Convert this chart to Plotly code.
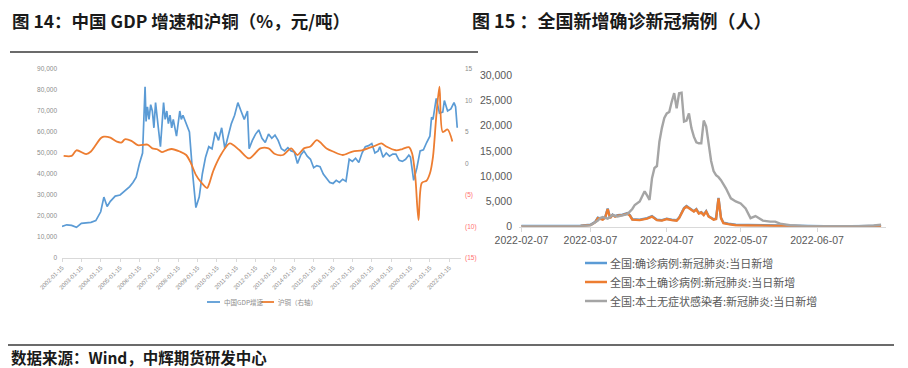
import plotly.graph_objects as go

# ---------------- Left chart data (图14) ----------------
copper_dates = [
    "2002-01-15", "2002-04-15", "2002-07-15", "2002-10-15", "2003-01-15", "2003-04-15", "2003-07-15",
    "2003-10-15", "2004-01-15", "2004-03-15", "2004-05-15", "2004-07-15", "2004-10-15", "2005-01-15",
    "2005-04-15", "2005-07-15", "2005-09-15", "2005-11-15", "2006-01-15", "2006-03-15", "2006-05-01",
    "2006-05-20", "2006-06-15", "2006-07-15", "2006-08-15", "2006-09-15", "2006-10-15", "2006-11-15",
    "2007-01-15", "2007-02-15", "2007-04-15", "2007-05-15", "2007-06-15", "2007-07-15", "2007-08-15",
    "2007-09-15", "2007-10-15", "2007-12-15", "2008-02-15", "2008-03-15", "2008-04-15", "2008-06-15",
    "2008-08-15", "2008-10-15", "2008-12-15", "2009-02-15", "2009-04-15", "2009-06-15", "2009-08-15",
    "2009-10-15", "2009-12-15", "2010-02-15", "2010-04-15", "2010-06-15", "2010-08-15", "2010-10-15",
    "2010-12-15", "2011-02-15", "2011-04-15", "2011-06-15", "2011-08-15", "2011-09-15", "2011-11-15",
    "2012-01-15", "2012-03-15", "2012-05-15", "2012-07-15", "2012-09-15", "2012-11-15", "2013-01-15",
    "2013-03-15", "2013-05-15", "2013-07-15", "2013-09-15", "2013-11-15", "2014-01-15", "2014-03-15",
    "2014-05-15", "2014-07-15", "2014-09-15", "2014-11-15", "2015-01-15", "2015-03-15", "2015-05-15",
    "2015-07-15", "2015-09-15", "2015-11-15", "2016-01-15", "2016-03-15", "2016-05-15", "2016-07-15",
    "2016-09-15", "2016-11-15", "2017-01-15", "2017-03-15", "2017-05-15", "2017-07-15", "2017-09-15",
    "2017-11-15", "2018-01-15", "2018-03-15", "2018-05-15", "2018-06-15", "2018-08-15", "2018-10-15",
    "2018-12-15", "2019-02-15", "2019-04-15", "2019-06-15", "2019-08-15", "2019-10-15", "2019-12-15",
    "2020-01-15", "2020-03-15", "2020-05-15", "2020-07-15", "2020-09-15", "2020-11-15", "2021-01-15",
    "2021-02-15", "2021-03-15", "2021-05-15", "2021-07-15", "2021-09-15", "2021-10-15", "2021-12-15",
    "2022-02-15", "2022-04-15", "2022-05-15", "2022-06-15",
]
copper_values = [
    15000, 15800, 15500, 14600, 16500, 16800, 17000,
    17800, 22000, 29000, 24500, 27000, 29500, 30000,
    32000, 34000, 36000, 38500, 45000, 50000, 81500,
    65000, 72000, 66000, 73000, 70000, 62000, 74000,
    60000, 53000, 74000, 66000, 70000, 64000, 68000,
    62000, 66000, 58000, 70000, 66000, 68000, 64000,
    60000, 40000, 24000, 29000, 40000, 48000, 53000,
    52000, 60000, 56000, 62000, 52000, 58000, 64000,
    68000, 74000, 70000, 66000, 70000, 52000, 56000,
    59000, 61000, 57000, 55000, 59000, 57000, 58500,
    56000, 52000, 51000, 52500, 51000, 50500, 45000,
    49000, 51000, 48500, 47000, 43000, 44000, 43500,
    40000, 38000, 36000, 35500, 37000, 36000, 37500,
    36500, 47000, 46000, 47500, 45500, 50000, 53000,
    53500, 54500, 50000, 51000, 53000, 48000, 50000,
    48500, 49500, 49500, 46500, 46000, 47000, 49000,
    48000, 37000, 43000, 51000, 51500, 55000, 58000,
    67000, 66000, 76000, 69000, 69500, 75000, 70000,
    71000, 74000, 72000, 62000,
]

gdp_dates = [
    "2002-02-15", "2002-07-15", "2002-10-15", "2003-04-15", "2003-07-15", "2004-01-15", "2004-03-15",
    "2004-07-15", "2004-11-15", "2005-02-15", "2005-04-15", "2005-08-15", "2005-12-15", "2006-06-15",
    "2006-09-15", "2006-12-15", "2007-03-15", "2007-06-15", "2007-09-15", "2008-02-15", "2008-06-15",
    "2008-09-15", "2008-12-15", "2009-03-15", "2009-07-15", "2009-08-15", "2009-11-15", "2010-04-15",
    "2010-09-15", "2011-03-15", "2011-09-15", "2012-04-15", "2012-09-15", "2013-01-15", "2013-06-15",
    "2013-11-15", "2014-03-15", "2014-07-15", "2014-11-15", "2015-03-15", "2015-09-15", "2016-01-15",
    "2016-07-15", "2017-01-15", "2017-07-15", "2018-02-15", "2018-07-15", "2018-10-15", "2019-04-15",
    "2019-08-15", "2019-12-15", "2020-02-15", "2020-04-15", "2020-06-15", "2020-08-15", "2020-11-15",
    "2021-01-15", "2021-03-15", "2021-05-15", "2021-07-15", "2021-09-15", "2021-12-15", "2022-03-15",
]
gdp_values = [
    1.2, 1.2, 2.1, 1.5, 1.9, 4.0, 4.25,
    4.1, 3.46, 3.35, 3.84, 3.6, 2.9, 3.0,
    2.4, 2.26, 1.8, 2.1, 2.3, 1.9, 1.35,
    0.0, -1.8, -2.9, -3.9, -3.4, -1.0, 1.6,
    3.2, 2.14, 0.8, 2.4, 2.4, 1.5, 1.35,
    2.4, 1.35, 2.4, 2.7, 3.7, 2.4, 1.9,
    1.35, 1.9, 2.1, 2.7, 3.2, 2.7, 2.1,
    2.3, 2.6, 1.6, -2.1, -9.0, -3.1, -2.7,
    -1.6, 1.1, 7.4, 12.2, 5.0, 5.4, 3.5,
]
left_tick_years = list(range(2002, 2023))
left_tick_labels = [f"{y}-01-15" for y in left_tick_years]
left_y_ticks = [0, 10000, 20000, 30000, 40000, 50000, 60000, 70000, 80000, 90000]
right_y_ticks = [-15, -10, -5, 0, 5, 10, 15]
right_y_labels = ["(15)", "(10)", "(5)", "0", "5", "10", "15"]
left_series_names = ["中国GDP增速", "沪铜（右轴）"]

# ---------------- Right chart data (图15) ----------------
asym_dates = [
    "2022-02-07", "2022-02-14", "2022-02-21", "2022-02-28", "2022-03-03", "2022-03-07", "2022-03-10",
    "2022-03-11", "2022-03-12", "2022-03-14", "2022-03-16", "2022-03-18", "2022-03-20", "2022-03-22",
    "2022-03-24", "2022-03-25", "2022-03-27", "2022-03-28", "2022-03-29", "2022-03-30", "2022-03-31",
    "2022-04-01", "2022-04-02", "2022-04-03", "2022-04-04", "2022-04-05", "2022-04-06", "2022-04-07",
    "2022-04-08", "2022-04-09", "2022-04-10", "2022-04-11", "2022-04-12", "2022-04-13", "2022-04-14",
    "2022-04-15", "2022-04-16", "2022-04-17", "2022-04-18", "2022-04-19", "2022-04-20", "2022-04-21",
    "2022-04-22", "2022-04-23", "2022-04-24", "2022-04-25", "2022-04-26", "2022-04-27", "2022-04-28",
    "2022-04-29", "2022-05-01", "2022-05-03", "2022-05-05", "2022-05-07", "2022-05-09", "2022-05-11",
    "2022-05-13", "2022-05-16", "2022-05-19", "2022-05-21", "2022-05-23", "2022-05-27", "2022-06-03",
    "2022-06-10", "2022-06-17", "2022-06-24", "2022-06-30", "2022-07-03",
]
asym_values = [
    80, 60, 70, 100, 120, 250, 1200,
    1700, 1900, 1600, 2300, 2000, 2300, 2500,
    3500, 4300, 5000, 6000, 7000, 6200, 5300,
    9600, 11600, 12000, 16800, 19500, 21500, 22400,
    22700, 24700, 26400, 23400, 26400, 26500, 20800,
    21000, 22400, 19500, 17800, 16700, 16500, 16500,
    21000, 19800, 16200, 13000, 11000, 10200, 9800,
    9200, 7600, 5600, 5000, 4600, 3600, 1700,
    2100, 1200, 1000, 1000, 600, 300, 120,
    80, 100, 120, 250, 400,
]
local_dates = [
    "2022-02-07", "2022-02-14", "2022-02-21", "2022-02-28", "2022-03-03", "2022-03-07", "2022-03-09",
    "2022-03-10", "2022-03-12", "2022-03-13", "2022-03-14", "2022-03-15", "2022-03-16", "2022-03-17",
    "2022-03-18", "2022-03-20", "2022-03-22", "2022-03-23", "2022-03-24", "2022-03-27", "2022-03-30",
    "2022-04-01", "2022-04-03", "2022-04-05", "2022-04-07", "2022-04-09", "2022-04-11", "2022-04-12",
    "2022-04-13", "2022-04-14", "2022-04-15", "2022-04-16", "2022-04-17", "2022-04-18", "2022-04-19",
    "2022-04-20", "2022-04-21", "2022-04-22", "2022-04-23", "2022-04-24", "2022-04-25", "2022-04-26",
    "2022-04-27", "2022-04-28", "2022-04-29", "2022-04-30", "2022-05-02", "2022-05-05", "2022-05-10",
    "2022-05-15", "2022-05-20", "2022-05-25", "2022-06-01", "2022-06-10", "2022-06-20", "2022-06-30",
    "2022-07-03",
]
local_values = [
    40, 60, 80, 100, 150, 300, 900,
    1700, 1400, 1800, 3500, 1700, 2300, 2000,
    2200, 2300, 2600, 2200, 1400, 1300, 1600,
    2000, 1300, 1200, 1500, 1300, 1200, 1700,
    2800, 3600, 4000, 3700, 3400, 3000, 3400,
    2600, 2800, 2300, 3000, 2000, 1700, 1400,
    1500, 5600, 1700, 700, 500, 300, 250,
    200, 150, 100, 60, 50, 40, 60,
    80,
]
total_values = [
    150, 130, 160, 180, 220, 380, 980,
    1780, 1480, 1880, 3580, 1780, 2380, 2080,
    2280, 2380, 2680, 2280, 1480, 1380, 1680,
    2080, 1380, 1280, 1580, 1380, 1280, 1780,
    2880, 3680, 4080, 3780, 3480, 3080, 3480,
    2680, 2880, 2380, 3080, 2080, 1780, 1480,
    1580, 5680, 1780, 780, 580, 380, 330,
    280, 230, 180, 130, 110, 100, 120,
    140,
]
right_tick_dates = ["2022-02-07", "2022-03-07", "2022-04-07", "2022-05-07", "2022-06-07"]
right_series_names = ["全国:确诊病例:新冠肺炎:当日新增", "全国:本土确诊病例:新冠肺炎:当日新增",
                      "全国:本土无症状感染者:新冠肺炎:当日新增"]

BLUE = "#5B9BD5"
ORANGE = "#ED7D31"
GRAY = "#A5A5A5"
CJK = "Noto Sans CJK SC"

# the page body has an 8px margin: draw a 900x360 figure and map window pixels onto it
OFF = 8
W, H = 908 - OFF, 368 - OFF
def px_x(v):
    return (v - OFF) / W
def px_y(v):
    return 1 - (v - OFF) / H

fig = go.Figure()

# left chart traces
fig.add_trace(go.Scatter(x=copper_dates, y=copper_values, mode="lines", name=left_series_names[0],
                         line=dict(color=BLUE, width=1.7), xaxis="x", yaxis="y"))
fig.add_trace(go.Scatter(x=gdp_dates, y=gdp_values, mode="lines", name=left_series_names[1],
                         line=dict(color=ORANGE, width=1.8, shape="spline", smoothing=0.8),
                         xaxis="x", yaxis="y2"))

# right chart traces
fig.add_trace(go.Scatter(x=local_dates, y=total_values, mode="lines", name=right_series_names[0],
                         line=dict(color=BLUE, width=2.4), xaxis="x3", yaxis="y3"))
fig.add_trace(go.Scatter(x=local_dates, y=local_values, mode="lines", name=right_series_names[1],
                         line=dict(color=ORANGE, width=2.4), xaxis="x3", yaxis="y3"))
fig.add_trace(go.Scatter(x=asym_dates, y=asym_values, mode="lines", name=right_series_names[2],
                         line=dict(color=GRAY, width=2.4), xaxis="x3", yaxis="y3"))

right_ticktext = []
for v, lab in zip(right_y_ticks, right_y_labels):
    if v < 0:
        right_ticktext.append(f"<span style='color:#FF7070'>{lab}</span>")
    else:
        right_ticktext.append(lab)

small_font = dict(family="Liberation Sans", size=6.5, color="#8C8C8C")

fig.update_layout(
    width=W, height=H,
    margin=dict(l=0, r=0, t=0, b=0, pad=0, autoexpand=False),
    paper_bgcolor="white", plot_bgcolor="white",
    showlegend=False,
    xaxis=dict(type="date", domain=[px_x(62), px_x(461)], range=["2002-01-15", "2022-08-25"],
               tickvals=[f"{y}-01-15" for y in left_tick_years], ticktext=left_tick_labels,
               tickangle=-45, tickfont=dict(family="Liberation Sans", size=6, color="#8C8C8C"),
               showline=True, linecolor="#D9D9D9", linewidth=1, ticks="outside", ticklen=3,
               tickcolor="#D9D9D9", showgrid=False, zeroline=False, anchor="y", automargin=False),
    yaxis=dict(domain=[px_y(258), px_y(69)], range=[0, 90000], tickvals=left_y_ticks,
               tickformat=",", tickfont=small_font, showgrid=False, zeroline=False,
               showline=False, ticks="", anchor="x", automargin=False, ticklabelstandoff=4),
    yaxis2=dict(overlaying="y", side="right", range=[-15, 15], tickvals=right_y_ticks,
                ticktext=right_ticktext, tickfont=small_font, showgrid=False, zeroline=False,
                showline=False, ticks="", anchor="x", automargin=False, ticklabelstandoff=3),
    xaxis3=dict(type="date", domain=[px_x(519), px_x(886)], range=["2022-02-06", "2022-07-05"],
                tickvals=right_tick_dates, ticktext=right_tick_dates, tickangle=0,
                tickfont=dict(family="Liberation Sans", size=10.5, color="#595959"),
                showline=True, linecolor="#D9D9D9", linewidth=1, ticks="outside", ticklen=4,
                tickcolor="#D9D9D9", showgrid=False, zeroline=False, anchor="y3", automargin=False),
    yaxis3=dict(domain=[px_y(226.7), px_y(75)], range=[0, 30000], dtick=5000, tickformat=",",
                tickfont=dict(family="Liberation Sans", size=10.5, color="#595959"),
                showgrid=False, zeroline=False, showline=False, ticks="", anchor="x3",
                automargin=False, ticklabelstandoff=6),
)

# ---- manual legend, left chart ----
left_leg = [(207, 220, 222, BLUE, left_series_names[0]), (261, 274, 276, ORANGE, left_series_names[1])]
for x0, x1, tx, col, name in left_leg:
    fig.add_shape(type="line", xref="paper", yref="paper", x0=px_x(x0), x1=px_x(x1),
                  y0=px_y(302), y1=px_y(302), line=dict(color=col, width=1.8))
    fig.add_annotation(text=name, x=px_x(tx), y=px_y(302), xref="paper", yref="paper",
                       xanchor="left", yanchor="middle", showarrow=False,
                       font=dict(family=CJK, size=6.5, color="#8C8C8C"))

# ---- manual legend, right chart ----
right_leg_y = [263, 282, 301]
for yy, col, name in zip(right_leg_y, [BLUE, ORANGE, GRAY], right_series_names):
    fig.add_shape(type="line", xref="paper", yref="paper", x0=px_x(585), x1=px_x(607),
                  y0=px_y(yy), y1=px_y(yy), line=dict(color=col, width=2.5))
    fig.add_annotation(text=name, x=px_x(608), y=px_y(yy), xref="paper", yref="paper",
                       xanchor="left", yanchor="middle", showarrow=False,
                       font=dict(family=CJK, size=11, color="#595959"))

# titles and source
fig.add_annotation(text="<b>图 14：中国 GDP 增速和沪铜（%，元/吨）</b>", x=px_x(11), y=px_y(20.5),
                   xref="paper", yref="paper", xanchor="left", yanchor="middle", showarrow=False,
                   borderpad=0, font=dict(family=CJK, size=17.5, color="#1A1A1A"))
fig.add_annotation(text="<b>图 15 ：全国新增确诊新冠病例（人）</b>", x=px_x(471), y=px_y(20.5),
                   xref="paper", yref="paper", xanchor="left", yanchor="middle", showarrow=False,
                   borderpad=0, font=dict(family=CJK, size=18, color="#1A1A1A"))
fig.add_annotation(text="<b>数据来源：Wind，中辉期货研发中心</b>", x=px_x(9), y=px_y(357),
                   xref="paper", yref="paper", xanchor="left", yanchor="middle", showarrow=False,
                   font=dict(family=CJK, size=15.5, color="#1A1A1A"))

# separator lines
fig.add_shape(type="line", xref="paper", yref="paper", x0=px_x(10), x1=px_x(478), y0=px_y(52), y1=px_y(52),
              line=dict(color="#3A3A3A", width=1.5))
fig.add_shape(type="line", xref="paper", yref="paper", x0=px_x(8), x1=px_x(894), y0=px_y(345), y1=px_y(345),
              line=dict(color="#3A3A3A", width=1.5))

fig.write_html("out.html")
